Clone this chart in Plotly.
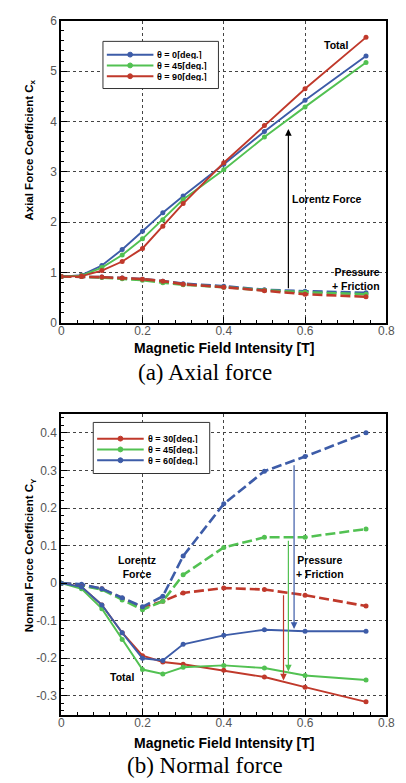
import plotly.graph_objects as go

# ---------------- data ----------------
field_T = [0, 0.05, 0.1, 0.15, 0.2, 0.25, 0.3, 0.4, 0.5, 0.6, 0.75]

# (a) axial force coefficient Cx : total (solid) and pressure + friction (dashed)
cx_total_0 = [0.92, 0.95, 1.14, 1.46, 1.82, 2.19, 2.52, 3.15, 3.80, 4.42, 5.30]
cx_total_45 = [0.92, 0.94, 1.10, 1.35, 1.67, 2.05, 2.45, 3.04, 3.69, 4.29, 5.17]
cx_total_90 = [0.92, 0.93, 1.04, 1.22, 1.48, 1.92, 2.37, 3.18, 3.92, 4.65, 5.67]
cx_pf_0 = [0.92, 0.92, 0.91, 0.89, 0.87, 0.83, 0.78, 0.73, 0.66, 0.63, 0.60]
cx_pf_45 = [0.92, 0.92, 0.90, 0.88, 0.85, 0.80, 0.76, 0.71, 0.65, 0.61, 0.57]
cx_pf_90 = [0.92, 0.92, 0.91, 0.89, 0.87, 0.83, 0.77, 0.71, 0.64, 0.57, 0.52]

# (b) normal force coefficient Cy : total (solid) and pressure + friction (dashed)
cy_total_30 = [0, -0.010, -0.058, -0.132, -0.193, -0.210, -0.216, -0.232, -0.250, -0.277, -0.316]
cy_total_45 = [0, -0.015, -0.068, -0.150, -0.230, -0.242, -0.224, -0.219, -0.226, -0.246, -0.258]
cy_total_60 = [0, -0.010, -0.058, -0.132, -0.200, -0.206, -0.163, -0.139, -0.124, -0.128, -0.128]
cy_pf_30 = [0, -0.005, -0.015, -0.040, -0.065, -0.048, -0.026, -0.013, -0.017, -0.032, -0.061]
cy_pf_45 = [0, -0.006, -0.017, -0.045, -0.071, -0.048, 0.022, 0.095, 0.122, 0.122, 0.144]
cy_pf_60 = [0, -0.003, -0.015, -0.039, -0.063, -0.035, 0.072, 0.211, 0.298, 0.337, 0.400]

x_tick_vals = [0, 0.2, 0.4, 0.6, 0.8]
x_tick_text = ["0", "0.2", "0.4", "0.6", "0.8"]
cx_tick_vals = [0, 1, 2, 3, 4, 5, 6]
cx_tick_text = ["0", "1", "2", "3", "4", "5", "6"]
cy_tick_vals = [-0.3, -0.2, -0.1, 0, 0.1, 0.2, 0.3, 0.4]
cy_tick_text = ["-0.3", "-0.2", "-0.1", "0", "0.1", "0.2", "0.3", "0.4"]

legend_a = ["θ = 0[deg.]", "θ = 45[deg.]", "θ = 90[deg.]"]
legend_b = ["θ = 30[deg.]", "θ = 45[deg.]", "θ = 60[deg.]"]

# ---------------- style ----------------
BLUE = "#3d5ca8"
GREEN = "#52c152"
RED = "#c0392b"
SANS = "Liberation Sans, Arial, sans-serif"
SERIF = "Liberation Serif, Times New Roman, serif"

W, H = 406, 783


def fx(p):
    return p / W


def fy(p):
    return 1 - p / H


fig = go.Figure()


def add_series(x, y, color, xa, ya, dashed):
    fig.add_trace(go.Scatter(
        x=x, y=y, xaxis=xa, yaxis=ya, mode="lines+markers",
        line=dict(color=color, width=2.6 if dashed else 1.9,
                  dash="10px,4px" if dashed else "solid"),
        marker=dict(color=color, size=5, symbol="circle"),
        showlegend=False, hoverinfo="x+y",
    ))


# (a) axial force
for ys, c in [(cx_pf_0, BLUE), (cx_pf_45, GREEN), (cx_pf_90, RED)]:
    add_series(field_T, ys, c, "x", "y", True)
for ys, c in [(cx_total_0, BLUE), (cx_total_45, GREEN), (cx_total_90, RED)]:
    add_series(field_T, ys, c, "x", "y", False)

# (b) normal force
for ys, c in [(cy_pf_30, RED), (cy_pf_45, GREEN), (cy_pf_60, BLUE)]:
    add_series(field_T, ys, c, "x2", "y2", True)
for ys, c in [(cy_total_30, RED), (cy_total_45, GREEN), (cy_total_60, BLUE)]:
    add_series(field_T, ys, c, "x2", "y2", False)


def x_axis(domain, anchor):
    return dict(
        domain=domain, anchor=anchor, range=[0, 0.8],
        tickmode="array", tickvals=x_tick_vals, ticktext=x_tick_text,
        ticks="inside", ticklen=6, tickwidth=1, tickcolor="black",
        minor=dict(dtick=0.04, tick0=0, ticks="inside", ticklen=3,
                   tickcolor="black", showgrid=False),
        showline=True, linecolor="black", linewidth=2, mirror=True,
        showgrid=True, gridcolor="#444", griddash="dot", gridwidth=1,
        zeroline=False, ticklabelstandoff=-4,
        tickfont=dict(family=SANS, size=12, color="#555"),
    )


def y_axis(domain, anchor, rng, vals, text, minor_step):
    return dict(
        domain=domain, anchor=anchor, range=rng,
        tickmode="array", tickvals=vals, ticktext=text,
        ticks="inside", ticklen=6, tickwidth=1, tickcolor="black",
        minor=dict(dtick=minor_step, tick0=0, ticks="inside", ticklen=3,
                   tickcolor="black", showgrid=False),
        showline=True, linecolor="black", linewidth=2, mirror=True,
        showgrid=True, gridcolor="#444", griddash="dot", gridwidth=1,
        zeroline=False,
        tickfont=dict(family=SANS, size=12, color="#555"),
    )


fig.update_layout(
    width=W, height=H,
    margin=dict(l=0, r=0, t=0, b=0),
    paper_bgcolor="white", plot_bgcolor="white",
    showlegend=False,
    xaxis=x_axis([fx(60), fx(395)], "y"),
    yaxis=y_axis([fy(321.7), fy(14)], "x", [0, 6], cx_tick_vals, cx_tick_text, 0.2),
    xaxis2=x_axis([fx(60), fx(395)], "y2"),
    yaxis2=y_axis([fy(720.5), fy(414.5)], "x2", [-0.35, 0.45], cy_tick_vals, cy_tick_text, 0.02),
)

annotations = []
shapes = []


def label(text, x, y, xref, yref, size=10.5, align="center", xanchor="center"):
    annotations.append(dict(
        text=text, x=x, y=y, xref=xref, yref=yref, showarrow=False,
        align=align, xanchor=xanchor, yanchor="middle",
        font=dict(family=SANS, size=size, color="black", weight="bold"),
    ))


def arrow(x, y_from, y_to, color, xref, yref):
    annotations.append(dict(
        text="", x=x, y=y_to, ax=x, ay=y_from, xref=xref, yref=yref,
        axref=xref, ayref=yref, showarrow=True, arrowhead=2, arrowsize=1.1,
        arrowwidth=1.2, arrowcolor=color, standoff=0, startstandoff=0,
    ))


# axis titles and captions
for yc, ttl, cap_y, cap in [
    (146, "Axial Force Coefficient C<sub>x</sub>", 372, "(a) Axial force"),
    (558, "Normal Force Coefficient C<sub>Y</sub>", 772, "(b) Normal force"),
]:
    annotations.append(dict(
        text=ttl, x=fx(28), y=fy(yc), xref="paper", yref="paper",
        showarrow=False, textangle=-90, xanchor="center", yanchor="middle",
        font=dict(family=SANS, size=11.5, color="black", weight="bold"),
    ))
    annotations.append(dict(
        text=cap, x=fx(208), y=fy(cap_y), xref="paper", yref="paper",
        showarrow=False, xanchor="center", yanchor="middle",
        font=dict(family=SERIF, size=23, color="black"),
    ))
for yc in [347, 749]:
    annotations.append(dict(
        text="Magnetic Field Intensity [T]", x=fx(228), y=fy(yc),
        xref="paper", yref="paper", showarrow=False,
        xanchor="center", yanchor="middle",
        font=dict(family=SANS, size=14, color="black", weight="bold"),
    ))

# (a) labels and arrow
label("Total", 0.676, 5.51, "x", "y")
label("Lorentz Force", 0.655, 2.47, "x", "y")
label("Pressure<br>+ Friction", 0.79, 0.87, "x", "y", align="right", xanchor="right")
arrow(0.559, 0.66, 3.85, "black", "x", "y")

# (b) labels and arrows
label("Lorentz<br>Force", 0.187, 0.043, "x2", "y2")
label("Pressure<br>+ Friction", 0.637, 0.043, "x2", "y2")
label("Total", 0.15, -0.25, "x2", "y2")
arrow(0.547, -0.028, -0.259, RED, "x2", "y2")
arrow(0.559, 0.117, -0.235, GREEN, "x2", "y2")
arrow(0.573, 0.318, -0.122, BLUE, "x2", "y2")


# boxed key for each panel
def key(box, rows, names, colors, line_x, text_x):
    x0, y0, x1, y1 = box
    shapes.append(dict(type="rect", xref="paper", yref="paper",
                       x0=fx(x0), x1=fx(x1), y0=fy(y1), y1=fy(y0),
                       line=dict(color="#333", width=1), fillcolor="white",
                       layer="above"))
    for ry, name, c in zip(rows, names, colors):
        shapes.append(dict(type="line", xref="paper", yref="paper",
                           x0=fx(line_x[0]), x1=fx(line_x[1]), y0=fy(ry), y1=fy(ry),
                           line=dict(color=c, width=2), layer="above"))
        mx = (line_x[0] + line_x[1]) / 2
        shapes.append(dict(type="circle", xref="paper", yref="paper",
                           x0=fx(mx - 2.5), x1=fx(mx + 2.5),
                           y0=fy(ry + 2.5), y1=fy(ry - 2.5),
                           line=dict(color=c, width=1), fillcolor=c, layer="above"))
        annotations.append(dict(
            text=name, x=fx(text_x), y=fy(ry), xref="paper", yref="paper",
            showarrow=False, xanchor="left", yanchor="middle",
            height=9, borderpad=0, valign="middle",
            font=dict(family=SANS, size=9, color="black", weight="bold"),
        ))


key((103, 35, 222, 83), [48.5, 59.5, 70.5], legend_a, [BLUE, GREEN, RED], (107, 155), 158)
key((93, 423, 213, 475), [439.5, 450.5, 461.5], legend_b, [RED, GREEN, BLUE], (97, 145), 148)

fig.update_layout(annotations=annotations, shapes=shapes)

fig.write_html("out.html")
